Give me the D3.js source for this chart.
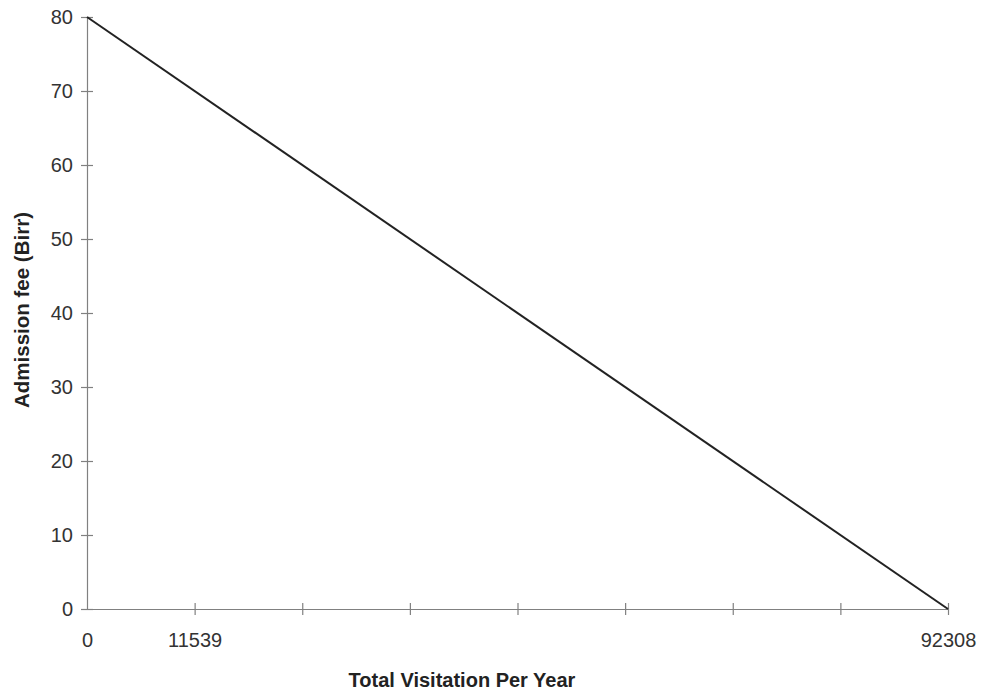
<!DOCTYPE html>
<html><head><meta charset="utf-8">
<script src="https://cdn.jsdelivr.net/npm/d3@7"></script>
<style>body{margin:0;background:#fff}svg{display:block}</style>
</head><body>
<svg id="c" width="982" height="694"></svg>
<script>
const visitation = [0, 92308];
const fee = [80, 0];
const yTicks = [0, 10, 20, 30, 40, 50, 60, 70, 80];
const xTicks = [0, 11539, 23077, 34616, 46154, 57693, 69231, 80770, 92308];
const xTickLabels = ["0", "11539", "", "", "", "", "", "", "92308"];
const xTitle = "Total Visitation Per Year";
const yTitle = "Admission fee (Birr)";

const svg = d3.select("#c");
const L = 87, R = 948, T = 17, B = 609;
const x = d3.scaleLinear().domain([0, 92308]).range([L, R]);
const y = d3.scaleLinear().domain([0, 80]).range([B, T]);
const font = "'Liberation Sans', Arial, sans-serif";
const axisCol = "#808080";

// y axis
const ya = svg.append("g").attr("transform", `translate(${L},0)`)
  .call(d3.axisLeft(y).tickValues(yTicks).tickSize(6).tickSizeOuter(0).tickPadding(8));
ya.selectAll(".tick line").attr("x2", -6).attr("x1", 6);
// x axis
const xa = svg.append("g").attr("transform", `translate(0,${B})`)
  .call(d3.axisBottom(x).tickValues(xTicks).tickSize(6).tickSizeOuter(0).tickPadding(18)
    .tickFormat((d, i) => xTickLabels[i]));
xa.selectAll(".tick line").attr("y1", -6).attr("y2", 6);
xa.selectAll(".tick").filter(d => d === 0).select("line").remove();

svg.selectAll(".domain, .tick line").attr("stroke", axisCol).attr("stroke-width", 1.2);
svg.selectAll(".tick text").attr("font-family", font).attr("font-size", 20).attr("fill", "#333");

// line
const line = d3.line().x((d, i) => x(visitation[i])).y(d => y(d));
svg.append("path").datum(fee).attr("d", line)
  .attr("fill", "none").attr("stroke", "#222").attr("stroke-width", 2);

// titles
svg.append("text").attr("x", 462).attr("y", 687).attr("text-anchor", "middle")
  .attr("font-family", font).attr("font-weight", "bold").attr("font-size", 20).attr("fill", "#222")
  .text(xTitle);
svg.append("text").attr("transform", `translate(29,310) rotate(-90)`)
  .attr("text-anchor", "middle")
  .attr("font-family", font).attr("font-weight", "bold").attr("font-size", 20.5).attr("fill", "#222")
  .text(yTitle);
</script>
</body></html>
